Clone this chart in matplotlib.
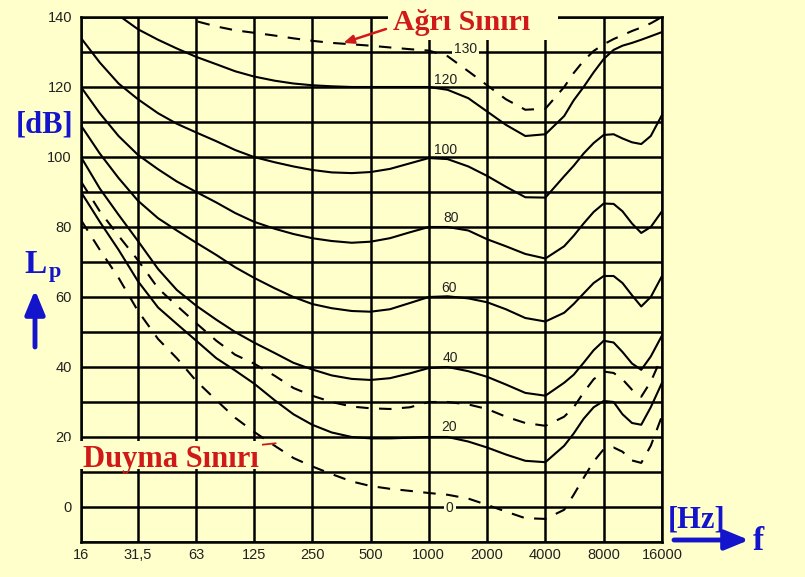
import numpy as np
import matplotlib.pyplot as plt
from matplotlib.patches import Rectangle

# frequencies (Hz): 1/3 octave, a bit finer above 4 kHz
freq = [16, 20, 25, 31.5, 40, 50, 63, 80, 100, 125, 160, 200, 250, 315, 400, 500, 630, 800,
        1000, 1250, 1600, 2000, 2500, 3150, 4000, 5000, 5600, 6300, 7100, 8000, 9000, 10000,
        11200, 12500, 14000, 16000]

nan = np.nan
# sound pressure level (dB) of each contour
esik_0 = [82, 73.5, 65.5, 56, 48, 42.5, 36, 30.5, 25.5, 21.5, 17.5, 14, 11.6, 9.4, 7.3, 6,
          5.2, 4.6, 4, 3.5, 2.4, 0.6, -1.3, -3.2, -3.4,
          -0.8, 3.5, 8.3, 13, 16.5, 17, 15.8, 13.3, 12.6, 17.5, 26]
phon_20 = [90, 81.5, 73.5, 64.5, 57, 52.3, 47.5, 42.5, 39, 35.3, 30.5, 26.5, 23.5, 21.3, 20,
           19.6, 19.6, 19.8, 20, 20, 18.7, 17, 15, 13.2, 12.8,
           17.5, 21, 25.2, 28.5, 30.3, 30, 26.5, 24, 23.5, 28.5, 35.5]
kesik_30 = [93, 84.5, 77.5, 70.5, 62.5, 57.5, 52.5, 47.5, 43.5, 41, 37.5, 34, 31.8, 30, 28.7,
            28.2, 28, 28.5, 30, 30, 29.3, 28, 25.8, 24, 23.2,
            25.8, 28.5, 32.7, 36.5, 38.7, 38.3, 36.5, 33.5, 31.5, 35.8, 43]
phon_40 = [100, 91, 83.5, 76, 68, 62, 57.5, 53.5, 50, 47, 44, 41.2, 39.3, 37.6, 36.6, 36.3,
           36.8, 38.2, 39.7, 40, 38.8, 37.2, 35, 32.6, 31.8,
           35.5, 37.8, 41.2, 44.8, 47.5, 47, 44.3, 41, 39.2, 43, 49]
phon_60 = [109, 101, 94, 87.5, 82.5, 79, 75.5, 72, 68.5, 65.5, 62.5, 60, 58, 56.8, 56, 55.8,
           56.5, 58.3, 60, 60.2, 59.6, 58.5, 56.5, 54, 53,
           55.5, 58, 61, 64, 66, 66, 64, 60.5, 57.3, 60, 66]
phon_80 = [120, 112.5, 106, 100.6, 96.5, 93, 90, 87, 84, 81.5, 79.5, 78, 76.8, 76, 75.5, 75.8,
           76.8, 78.5, 80, 80, 79, 76.5, 74.5, 72.3, 71,
           74.5, 77.5, 81, 84.3, 86.7, 86.6, 84.5, 81, 78.3, 80, 84.5]
phon_100 = [134, 127, 121, 116.5, 112.5, 109.5, 107, 104.5, 102, 100, 98.5, 97.3, 96.3, 95.6,
            95.4, 95.7, 96.6, 98.2, 99.7, 99.4, 97.3, 94.6, 91.5, 88.5, 88.4,
            94.5, 97.5, 101, 104, 106.3, 106.5, 105.3, 104.2, 103.7, 106, 112]
phon_120 = [nan, nan, 140.5, 136.5, 133.5, 131, 128.6, 126.5, 124.5, 123, 121.8, 121, 120.5,
            120.2, 120, 120, 120, 120, 120, 119.2, 116.8, 113, 109.2, 106, 106.5,
            111.7, 116.2, 120, 124.2, 128, 130.6, 131.8, 132.6, 133.5, 134.5, 135.7]
agri_130 = [nan, nan, nan, nan, nan, 141.5, 138.8, 137.3, 136.2, 135.5, 134.7, 133.9, 133.2,
            132.6, 132.2, 131.8, 131.3, 130.8, 130.4, 128.8, 124.5, 120.5, 116.5, 113.5, 113.8,
            120, 124, 127.5, 130.3, 132.2, 133.7, 134.8, 136, 137, 138.2, 140]

x_ticks = [16, 31.5, 63, 125, 250, 500, 1000, 2000, 4000, 8000, 16000]
x_labels = ['16', '31,5', '63', '125', '250', '500', '1000', '2000', '4000', '8000', '16000']
y_ticks = [0, 20, 40, 60, 80, 100, 120, 140]

# contour labels near 1250 Hz
etiket = ['0', '20', '40', '60', '80', '100', '120', '130']
etiket_f = [1284, 1268, 1299, 1268, 1299, 1224, 1224, 1552]
etiket_db = [-0.3, 22.9, 42.6, 62.6, 82.6, 102, 122, 130.9]

bg = '#FFFFCC'
kirmizi = '#D01A1A'
mavi = '#1414CC'
W, H = 805, 577


def px(x, y):
    # pixel position -> figure fraction
    return (x / W, 1 - y / H)


fig = plt.figure(figsize=(W / 100, H / 100), dpi=100, facecolor=bg)
ax = fig.add_axes([81 / W, 1 - 542 / H, (662 - 81) / W, (542 - 17) / H])
ax.set_facecolor(bg)

dash = (0, (6, 5))
for seri in [phon_20, phon_40, phon_60, phon_80, phon_100, phon_120]:
    ax.plot(freq, seri, color='black', lw=1.5, zorder=3)
for seri in [esik_0, kesik_30, agri_130]:
    ax.plot(freq, seri, color='black', lw=1.5, ls=dash, zorder=3)

ax.set_xscale('log', base=2)
ax.set_xlim(16, 16000)
ax.set_ylim(-10, 140)
ax.set_xticks(x_ticks, x_labels)
ax.xaxis.set_minor_locator(plt.NullLocator())
ax.set_yticks(y_ticks)
ax.set_yticks(np.arange(-10, 141, 10), minor=True)
ax.grid(True, which='both', color='black', lw=1.8, zorder=1)
ax.set_axisbelow(True)
for s in ax.spines.values():
    s.set_linewidth(1.8)
ax.tick_params(which='both', length=0)
ax.tick_params(axis='y', pad=6.5)
ax.tick_params(axis='x', pad=4)
for lab in ax.get_xticklabels() + ax.get_yticklabels():
    lab.set_fontfamily('Liberation Sans')
    lab.set_fontsize(10.5)
    lab.set_color('#222222')

for t, f, d in zip(etiket, etiket_f, etiket_db):
    kutu = None
    if t in ('0', '130'):
        kutu = dict(boxstyle='square,pad=0.15', fc=bg, ec='none')
    ax.text(f, d, t, fontsize=10, family='Liberation Sans', color='#222222',
            ha='center', va='center', bbox=kutu, zorder=4)

# Ağrı Sınırı (pain threshold)
fig.add_artist(Rectangle(px(388, 40), 170 / W, 40 / H, transform=fig.transFigure,
                         fc=bg, ec='none', zorder=10))
fig.text(*px(393, 30), 'Ağrı Sınırı', fontsize=21.5, family='Liberation Serif',
         weight='bold', color=kirmizi, va='baseline', zorder=11)
ax.annotate('', xy=(362, 132.6), xycoords='data', xytext=px(386, 29),
            textcoords='figure fraction',
            arrowprops=dict(arrowstyle='-|>,head_length=0.6,head_width=0.25',
                            color=kirmizi, lw=1.8, shrinkA=0, shrinkB=0))

# Duyma Sınırı (hearing threshold)
fig.add_artist(Rectangle(px(66, 469), 196 / W, 28 / H, transform=fig.transFigure,
                         fc=bg, ec='none', zorder=10))
fig.text(*px(83, 467), 'Duyma Sınırı', fontsize=22, family='Liberation Serif',
         weight='bold', color=kirmizi, va='baseline', zorder=11)
ax.annotate('', xy=(162, 18.2), xycoords='data', xytext=px(240, 447),
            textcoords='figure fraction',
            arrowprops=dict(arrowstyle='-', color=kirmizi, lw=1.3, shrinkA=0, shrinkB=0),
            zorder=12)

# axis names
fig.text(*px(45, 125), '[dB]', fontsize=22, family='Liberation Serif', weight='bold',
         color=mavi, ha='center', va='center')
fig.text(*px(24, 273), 'L', fontsize=24, family='Liberation Serif', weight='bold',
         color=mavi, va='baseline')
fig.text(*px(49, 277), 'p', fontsize=16, family='Liberation Serif', weight='bold',
         color=mavi, va='baseline')
fig.text(*px(697, 520), '[Hz]', fontsize=22, family='Liberation Serif', weight='bold',
         color=mavi, ha='center', va='center')
fig.text(*px(753, 550), 'f', fontsize=24, family='Liberation Serif', weight='bold',
         color=mavi, va='baseline')

ok = dict(arrowstyle='-|>,head_length=0.8,head_width=0.33', color=mavi, lw=3.5,
          mutation_scale=18, shrinkA=0, shrinkB=0)
ax.annotate('', xy=px(35, 290), xycoords='figure fraction', xytext=px(35, 347),
            textcoords='figure fraction', arrowprops=ok)
ax.annotate('', xy=px(749, 540), xycoords='figure fraction', xytext=px(674, 540),
            textcoords='figure fraction', arrowprops=ok)

fig.savefig('out.png', dpi=100, facecolor=bg)
